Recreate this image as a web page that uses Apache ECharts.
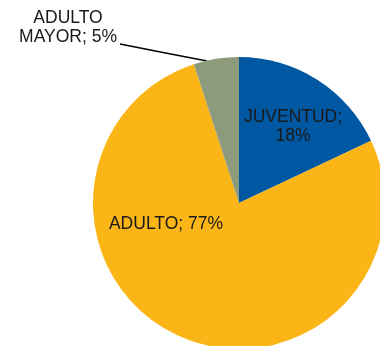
<!DOCTYPE html>
<html><head><meta charset="utf-8">
<script src="https://cdn.jsdelivr.net/npm/echarts@6/dist/echarts.min.js"></script>
<style>html,body{margin:0;padding:0;background:#fff}#c{width:380px;height:346px}</style>
</head><body><div id="c"></div>
<script>
const categories = ['JUVENTUD', 'ADULTO', 'ADULTO MAYOR'];
const values = [18, 77, 5];
const colors = ['#0058A2', '#FBB516', '#8D9A7B'];
const labelTexts = ['JUVENTUD;\n18%', 'ADULTO; 77%', 'ADULTO\nMAYOR; 5%'];

const chart = echarts.init(document.getElementById('c'));
const labelPos = [
  {x: 293, y: 127},
  {x: 166, y: 224},
  {x: 68, y: 28}
];
chart.setOption({
  animation: false,
  series: [{
    type: 'pie',
    center: [239, 203],
    radius: [0, 146],
    startAngle: 90,
    clockwise: true,
    data: categories.map((c, i) => ({
      name: c, value: values[i],
      itemStyle: {color: colors[i]},
      label: {show: true, position: i === 2 ? 'outside' : 'inside', formatter: labelTexts[i]},
      labelLine: {show: i === 2, lineStyle: {color: '#000', width: 1.3}}
    })),
    label: {
      fontFamily: 'Liberation Sans', fontSize: 17.5, color: '#1a1a1a',
      lineHeight: 19, align: 'center'
    },
    labelLayout: function (p) {
      const pos = labelPos[p.dataIndex];
      const r = {x: pos.x, y: pos.y, align: 'center', verticalAlign: 'middle', hideOverlap: false, moveOverlap: false};
      if (p.dataIndex === 2) r.labelLinePoints = [[207, 61], [163, 52.5], [120, 44]];
      return r;
    }
  }]
});
</script></body></html>
